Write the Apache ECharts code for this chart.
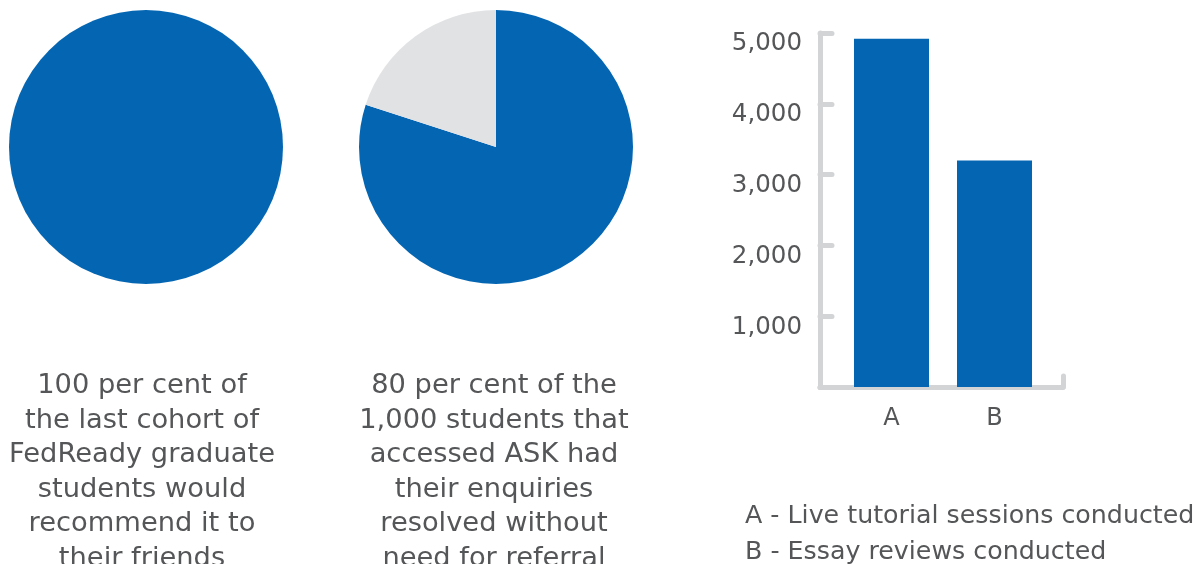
<!DOCTYPE html>
<html>
<head>
<meta charset="utf-8">
<script src="https://cdn.jsdelivr.net/npm/echarts@6/dist/echarts.min.js"></script>
<style>html,body{margin:0;padding:0;background:#fff;}#c{width:1204px;height:564px;}</style>
</head>
<body>
<div id="c"></div>
<script>
// ---- data ----
const pie1Names = ['Would recommend'];
const pie1Values = [100];
const pie2Names = ['Resolved without referral', 'Referred'];
const pie2Values = [80, 20];
const barCategories = ['A', 'B'];
const barValues = [4920, 3200];
const yMin = 0, yMax = 5000, yStep = 1000;
const pie1Caption = ['100 per cent of', 'the last cohort of', 'FedReady graduate', 'students would', 'recommend it to', 'their friends'];
const pie2Caption = ['80 per cent of the', '1,000 students that', 'accessed ASK had', 'their enquiries', 'resolved without', 'need for referral'];
const legendLines = ['A - Live tutorial sessions conducted', 'B - Essay reviews conducted'];

const BLUE = '#0466b3', GREYSLICE = '#e1e2e4', AXIS = '#d3d4d6', TXT = '#555658';
const FONT = '"DejaVu Sans", sans-serif';

const chart = echarts.init(document.getElementById('c'));
const fmt = v => v === 0 ? '' : '{a|' + v.toLocaleString('en-US') + '}';

chart.setOption({
  animation: false,
  backgroundColor: '#fff',
  textStyle: { fontFamily: FONT },
  title: [
    { text: pie1Caption.join('\n'), left: 137, top: 364, textAlign: 'center',
      textStyle: { fontFamily: FONT, fontSize: 27.3, fontWeight: 'normal', color: TXT, lineHeight: 34.5, align: 'center' } },
    { text: pie2Caption.join('\n'), left: 489, top: 364, textAlign: 'center',
      textStyle: { fontFamily: FONT, fontSize: 27.3, fontWeight: 'normal', color: TXT, lineHeight: 34.5, align: 'center' } },
    { text: legendLines.join('\n'), left: 740, top: 493,
      textStyle: { fontFamily: FONT, fontSize: 25.3, fontWeight: 'normal', color: TXT, lineHeight: 36 } }
  ],
  grid: [
    { left: 820, top: 33, width: 243, height: 354 },
    { left: 840, top: 33, width: 206, height: 354 }
  ],
  xAxis: [
    { gridIndex: 0, type: 'value', min: 0, max: 1, interval: 1,
      axisLine: { show: true, lineStyle: { color: AXIS, width: 5, cap: 'round' } },
      axisTick: { show: true, inside: true, length: 11, lineStyle: { color: AXIS, width: 5, cap: 'round' } },
      axisLabel: { show: false }, splitLine: { show: false } },
    { gridIndex: 1, type: 'category', data: barCategories,
      axisLine: { show: false }, axisTick: { show: false },
      axisLabel: { margin: 20, fontSize: 24, color: TXT, fontFamily: FONT } }
  ],
  yAxis: [
    { gridIndex: 0, type: 'value', min: yMin, max: yMax, interval: yStep,
      axisLine: { show: true, lineStyle: { color: AXIS, width: 5, cap: 'round' } },
      axisTick: { show: true, inside: true, length: 12, lineStyle: { color: AXIS, width: 5, cap: 'round' } },
      axisLabel: { formatter: fmt, margin: 18, fontSize: 24, color: TXT, fontFamily: FONT,
        rich: { a: { fontSize: 24.5, color: TXT, fontFamily: FONT, padding: [22, 0, 0, 0] } } },
      splitLine: { show: false } },
    { gridIndex: 1, type: 'value', min: yMin, max: yMax, interval: yStep, show: false }
  ],
  series: [
    { type: 'pie', center: [146, 147], radius: 137, startAngle: 90, clockwise: true,
      label: { show: false }, labelLine: { show: false }, silent: true,
      itemStyle: { borderWidth: 0 },
      data: pie1Values.map((v, i) => ({ name: pie1Names[i], value: v, itemStyle: { color: BLUE } })) },
    { type: 'pie', center: [496, 147], radius: 137, startAngle: 90, clockwise: true,
      label: { show: false }, labelLine: { show: false }, silent: true,
      itemStyle: { borderWidth: 0 },
      data: pie2Values.map((v, i) => ({ name: pie2Names[i], value: v, itemStyle: { color: i === 0 ? BLUE : GREYSLICE } })) },
    { type: 'bar', xAxisIndex: 1, yAxisIndex: 1, data: barValues, barWidth: 75,
      itemStyle: { color: BLUE } }
  ]
});
</script>
</body>
</html>
